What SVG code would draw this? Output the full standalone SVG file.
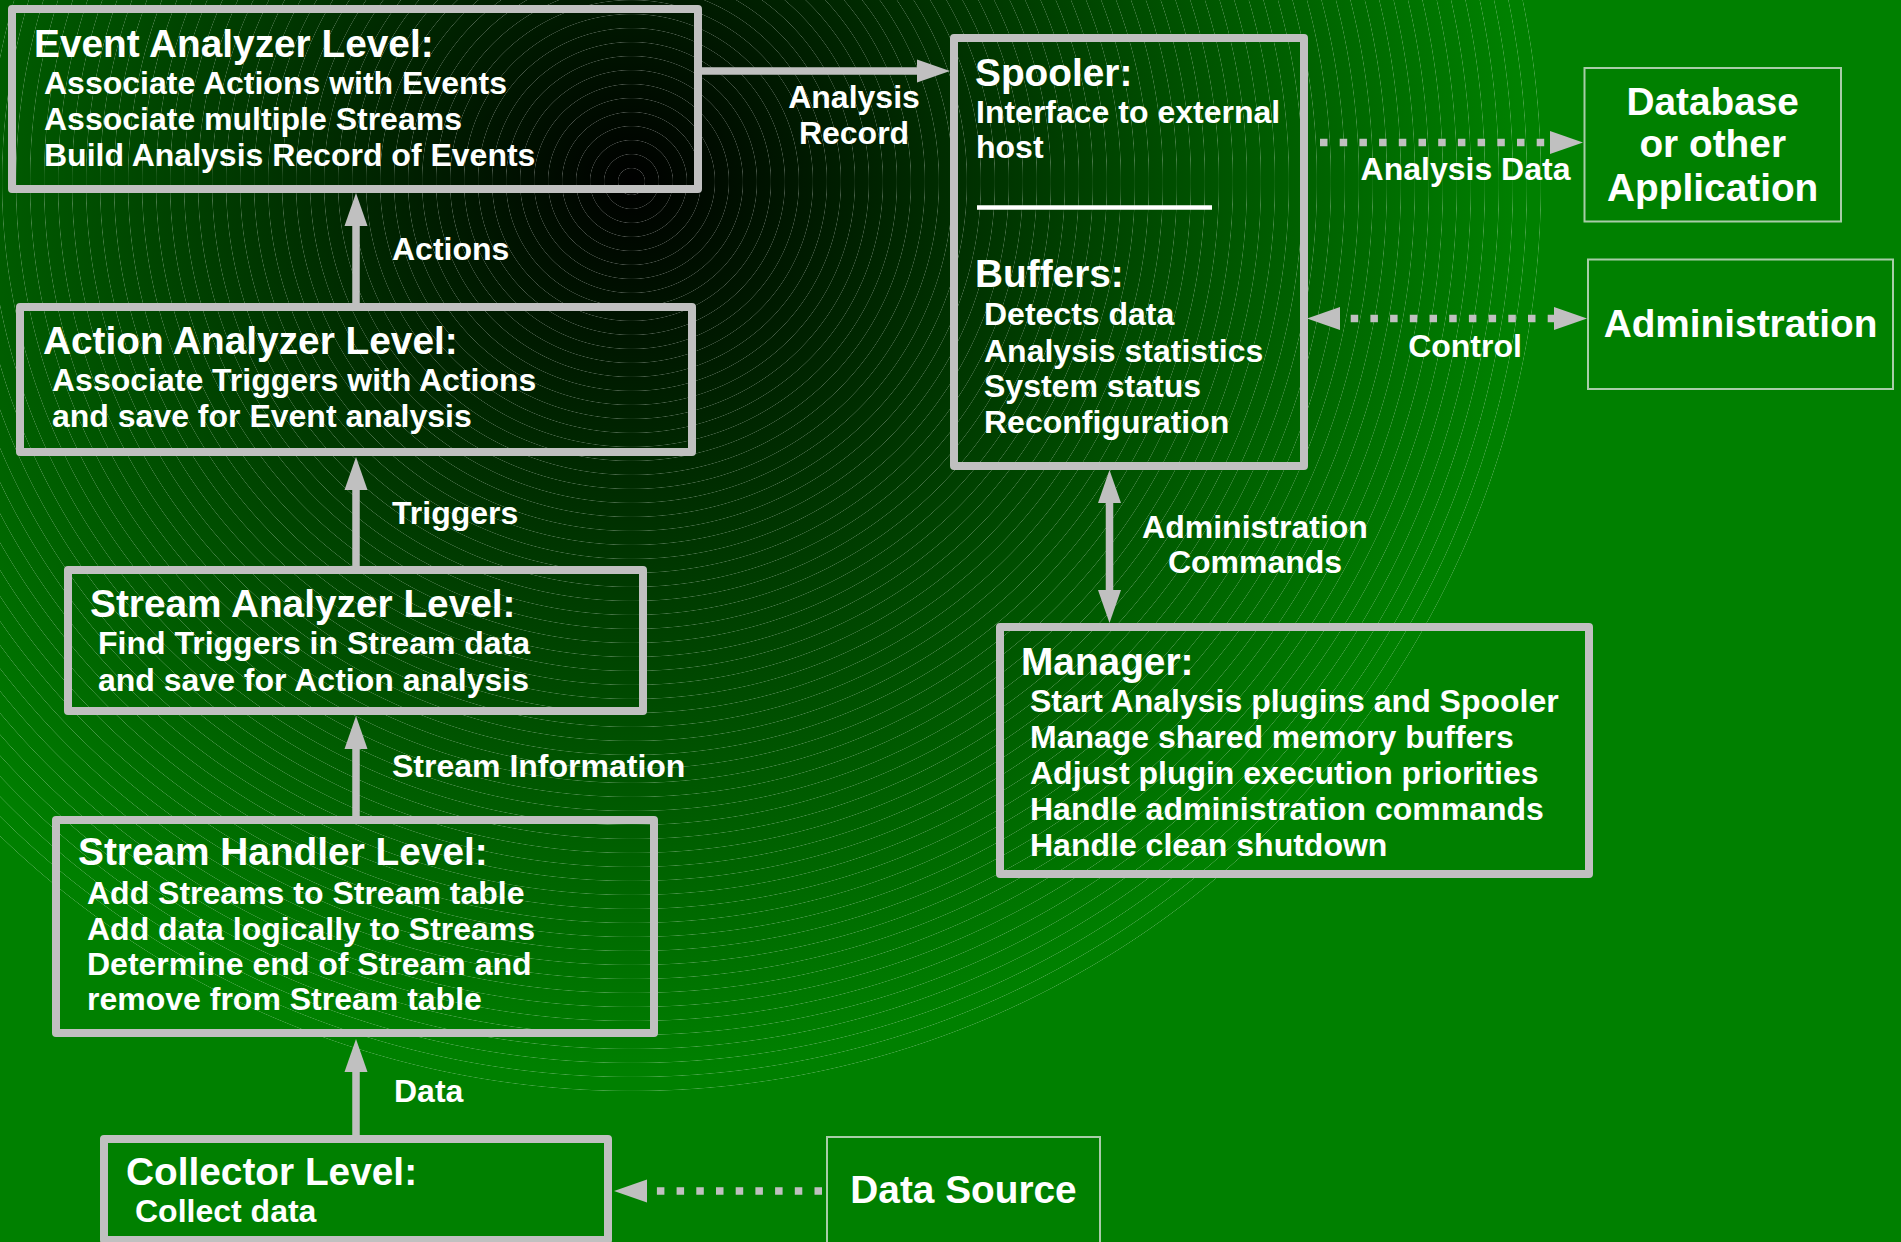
<svg xmlns="http://www.w3.org/2000/svg" width="1901" height="1242" viewBox="0 0 1901 1242">
<defs>
<radialGradient id="bg" gradientUnits="userSpaceOnUse" cx="631.5" cy="181.5" r="890">
<stop offset="0" stop-color="#000000"/>
<stop offset="1" stop-color="#008000"/>
</radialGradient>
<radialGradient id="rings" gradientUnits="userSpaceOnUse" cx="631.5" cy="181.5" r="14" spreadMethod="repeat">
<stop offset="0" stop-color="#ffffff" stop-opacity="0"/>
<stop offset="0.92" stop-color="#ffffff" stop-opacity="0"/>
<stop offset="0.96" stop-color="#ffffff" stop-opacity="0.28"/>
<stop offset="1" stop-color="#ffffff" stop-opacity="0"/>
</radialGradient>
<marker id="ah" markerUnits="userSpaceOnUse" markerWidth="34" markerHeight="23" refX="0" refY="11.5" orient="auto-start-reverse" overflow="visible">
<path d="M0,0 L33,11.5 L0,23 Z" fill="#c0c0c0"/>
</marker>
</defs>
<style>
.bx{fill:none;stroke:#c0c0c0;stroke-width:8;stroke-linejoin:round}
.tb{fill:none;stroke:#a8cca8;stroke-width:2}
text{font-family:"Liberation Sans",Arial,sans-serif;font-weight:bold;fill:#ffffff}
.t{font-size:38.8px}
.b{font-size:32px}
.c{text-anchor:middle}
.ln{stroke:#c0c0c0;stroke-width:7.5;fill:none}
.dt{stroke:#c0c0c0;stroke-width:7.5;fill:none;stroke-dasharray:7.5 12.2}
</style>
<rect x="0" y="0" width="1901" height="1242" fill="url(#bg)"/>
<circle cx="631.5" cy="181.5" r="912" fill="url(#rings)"/>

<g id="connectors">
<line class="ln" x1="356" y1="303" x2="356" y2="226" marker-end="url(#ah)"/>
<line class="ln" x1="356" y1="566" x2="356" y2="490" marker-end="url(#ah)"/>
<line class="ln" x1="356" y1="816" x2="356" y2="749" marker-end="url(#ah)"/>
<line class="ln" x1="356" y1="1135" x2="356" y2="1072" marker-end="url(#ah)"/>
<line class="ln" x1="702" y1="71" x2="917" y2="71" marker-end="url(#ah)"/>
<line class="ln" x1="1109.5" y1="503" x2="1109.5" y2="590" marker-start="url(#ah)" marker-end="url(#ah)"/>
<line class="dt" x1="1320" y1="142.5" x2="1550" y2="142.5" marker-end="url(#ah)"/>
<line class="dt" x1="1340" y1="318.5" x2="1554" y2="318.5" stroke-dashoffset="9" marker-start="url(#ah)" marker-end="url(#ah)"/>
<line class="dt" x1="822" y1="1191" x2="647" y2="1191" marker-end="url(#ah)"/>
<text class="b" x="392" y="260">Actions</text>
<text class="b" x="392" y="524">Triggers</text>
<text class="b" x="392" y="777">Stream Information</text>
<text class="b" x="394" y="1102">Data</text>
<text class="b c" x="854" y="108">Analysis</text>
<text class="b c" x="854" y="144">Record</text>
<text class="b c" x="1465.5" y="180">Analysis Data</text>
<text class="b c" x="1465" y="357">Control</text>
<text class="b c" x="1255" y="538">Administration</text>
<text class="b c" x="1255" y="573">Commands</text>
</g>

<g id="event-analyzer">
<rect class="bx" x="12" y="9" width="686" height="180"/>
<text class="t" x="34" y="57">Event Analyzer Level:</text>
<text class="b" x="44" y="94">Associate Actions with Events</text>
<text class="b" x="44" y="130">Associate multiple Streams</text>
<text class="b" x="44" y="166">Build Analysis Record of Events</text>
</g>

<g id="action-analyzer">
<rect class="bx" x="20" y="307" width="672" height="145"/>
<text class="t" x="43" y="354">Action Analyzer Level:</text>
<text class="b" x="52" y="391">Associate Triggers with Actions</text>
<text class="b" x="52" y="427">and save for Event analysis</text>
</g>

<g id="stream-analyzer">
<rect class="bx" x="68" y="570" width="575" height="141"/>
<text class="t" x="90" y="617">Stream Analyzer Level:</text>
<text class="b" x="98" y="654">Find Triggers in Stream data</text>
<text class="b" x="98" y="691">and save for Action analysis</text>
</g>

<g id="stream-handler">
<rect class="bx" x="56" y="820" width="598" height="213"/>
<text class="t" x="78" y="865">Stream Handler Level:</text>
<text class="b" x="87" y="904">Add Streams to Stream table</text>
<text class="b" x="87" y="939.5">Add data logically to Streams</text>
<text class="b" x="87" y="975">Determine end of Stream and</text>
<text class="b" x="87" y="1010">remove from Stream table</text>
</g>

<g id="collector">
<rect class="bx" x="104" y="1139" width="504" height="101"/>
<text class="t" x="126" y="1185">Collector Level:</text>
<text class="b" x="135" y="1222">Collect data</text>
</g>

<g id="data-source">
<rect class="tb" x="827" y="1137" width="273" height="120"/>
<text class="t c" x="963.5" y="1203">Data Source</text>
</g>

<g id="spooler">
<rect class="bx" x="954" y="38" width="350" height="428"/>
<text class="t" x="975" y="86">Spooler:</text>
<text class="b" x="976" y="123">Interface to external</text>
<text class="b" x="976" y="158">host</text>
<line x1="977" y1="207.5" x2="1212" y2="207.5" stroke="#ffffff" stroke-width="4.5"/>
<text class="t" x="975" y="287">Buffers:</text>
<text class="b" x="984" y="325">Detects data</text>
<text class="b" x="984" y="361.5">Analysis statistics</text>
<text class="b" x="984" y="397">System status</text>
<text class="b" x="984" y="433">Reconfiguration</text>
</g>

<g id="manager">
<rect class="bx" x="1000" y="627" width="589" height="247"/>
<text class="t" x="1021" y="675">Manager:</text>
<text class="b" x="1030" y="712">Start Analysis plugins and Spooler</text>
<text class="b" x="1030" y="748">Manage shared memory buffers</text>
<text class="b" x="1030" y="784">Adjust plugin execution priorities</text>
<text class="b" x="1030" y="820">Handle administration commands</text>
<text class="b" x="1030" y="856">Handle clean shutdown</text>
</g>

<g id="database">
<rect class="tb" x="1584.5" y="68" width="256.5" height="153.5"/>
<text class="t c" x="1712.7" y="115">Database</text>
<text class="t c" x="1712.7" y="157">or other</text>
<text class="t c" x="1712.7" y="200.5">Application</text>
</g>

<g id="administration">
<rect class="tb" x="1588" y="259.5" width="305" height="129.5"/>
<text class="t c" x="1740.5" y="337">Administration</text>
</g>
</svg>
